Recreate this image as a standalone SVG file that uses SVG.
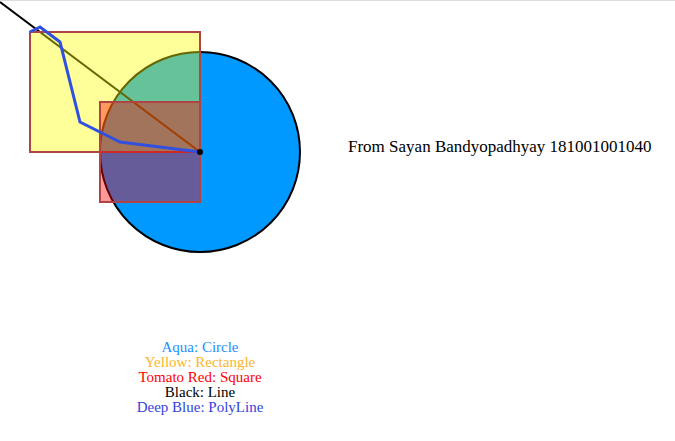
<svg xmlns="http://www.w3.org/2000/svg" width="675" height="441" viewBox="0 0 675 441">
<style>
text{font-family:"Liberation Serif","Times New Roman",serif;font-size:16px}
.legend{text-anchor:middle;font-size:15px}
.title{font-size:17px}
.box{stroke:#b04444;stroke-width:2}
</style>
<rect x="0" y="0" width="675" height="441" fill="#ffffff"/>
<rect x="0" y="0" width="675" height="1" fill="#dddddd"/>
<g id="circle">
<circle cx="200" cy="152" r="100" fill="#0099ff" stroke="#000000" stroke-width="2"/>
</g>
<g id="connectors">
<line x1="0" y1="2" x2="200" y2="152" stroke="#000000" stroke-width="2"/>
</g>
<g id="rectangle">
<rect class="box" x="30" y="32" width="170" height="120" fill="rgba(255,255,0,0.4)"/>
</g>
<g id="square">
<rect class="box" x="100" y="102" width="100" height="100" fill="rgba(255,0,0,0.4)"/>
</g>
<g id="polyline">
<polyline points="30,32 40,27 60,42 80,122 120,142 200,152" fill="none" stroke="#3050e0" stroke-width="3"/>
<circle cx="200" cy="152" r="3" fill="#000000"/>
</g>
<g id="title">
<text class="title" x="348" y="152">From Sayan Bandyopadhyay 181001001040</text>
</g>
<g id="legend">
<text class="legend" x="200" y="352" fill="#1e90ff">Aqua: Circle</text>
<text class="legend" x="200" y="367" fill="#fbb52a">Yellow: Rectangle</text>
<text class="legend" x="200" y="382" fill="#ff0000">Tomato Red: Square</text>
<text class="legend" x="200" y="397" fill="#000000">Black: Line</text>
<text class="legend" x="200" y="412" fill="#3344dd">Deep Blue: PolyLine</text>
</g>
</svg>
